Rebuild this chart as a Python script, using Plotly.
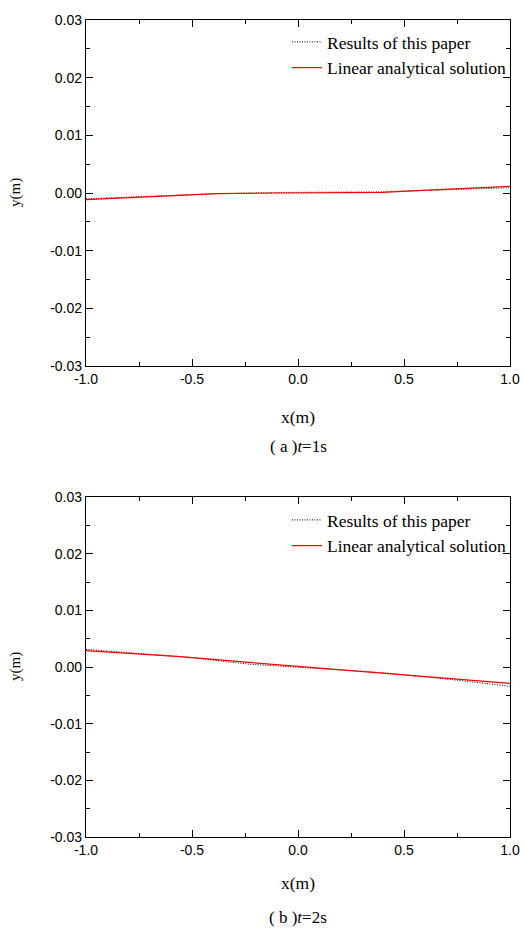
import plotly.graph_objects as go

# panel (a) t=1s
x_a = [-1.0, -0.54, -0.38, -0.07, 0.40, 0.56, 1.0]
paper_a = [-0.0010, -0.0004, -0.0001, 0.0001, 0.0002, 0.0004, 0.0009]
linear_a = [-0.00116, -0.0003, -0.0001, 0.0, 0.0001, 0.0004, 0.00116]

# panel (b) t=2s
x_b = [-1.0, -0.54, -0.23, 0.04, 0.40, 0.72, 1.0]
paper_b = [0.0031, 0.0018, 0.0005, -0.0001, -0.0010, -0.0022, -0.0034]
linear_b = [0.0029, 0.0018, 0.0008, 0.0, -0.0011, -0.0021, -0.0029]

x_ticks = [-1.0, -0.5, 0.0, 0.5, 1.0]
x_ticktext = ['-1.0', '-0.5', '0.0', '0.5', '1.0']
y_ticks = [-0.03, -0.02, -0.01, 0.0, 0.01, 0.02, 0.03]
y_ticktext = ['-0.03', '-0.02', '-0.01', '0.00', '0.01', '0.02', '0.03']

W, H = 525, 929
SERIF = 'Liberation Serif, Times New Roman, serif'
SANS = 'Liberation Sans, Arial, sans-serif'
DOT = '1px,1.5px'

fig = go.Figure()

# (a)
fig.add_trace(go.Scatter(x=x_a, y=paper_a, mode='lines', name='Results of this paper',
                         line=dict(color='black', width=1, dash=DOT), xaxis='x', yaxis='y', legend='legend'))
fig.add_trace(go.Scatter(x=x_a, y=linear_a, mode='lines', name='Linear analytical solution',
                         line=dict(color='#ff0000', width=1.2), xaxis='x', yaxis='y', legend='legend'))
# (b)
fig.add_trace(go.Scatter(x=x_b, y=paper_b, mode='lines', name='Results of this paper',
                         line=dict(color='black', width=1, dash=DOT), xaxis='x2', yaxis='y2', legend='legend2'))
fig.add_trace(go.Scatter(x=x_b, y=linear_b, mode='lines', name='Linear analytical solution',
                         line=dict(color='#ff0000', width=1.2), xaxis='x2', yaxis='y2', legend='legend2'))

x_dom = [86 / W, 510 / W]
dom_a = [1 - 366 / H, 1 - 20 / H]
dom_b = [1 - 837 / H, 1 - 497 / H]

def xax(anchor, dom):
    return dict(domain=dom, anchor=anchor, range=[-1, 1], tickvals=x_ticks, ticktext=x_ticktext,
                ticks='inside', ticklen=7, tickwidth=1.2, tickcolor='black',
                minor=dict(dtick=0.25, ticks='inside', ticklen=4, tickwidth=1.2, tickcolor='black'),
                showline=True, linecolor='black', linewidth=1.3, mirror='ticks', automargin=False,
                showgrid=False, zeroline=False, tickfont=dict(family=SANS, size=14, color='black'))

def yax(anchor, dom):
    return dict(domain=dom, anchor=anchor, range=[-0.03, 0.03], tickvals=y_ticks, ticktext=y_ticktext,
                ticks='inside', ticklen=7, tickwidth=1.2, tickcolor='black',
                minor=dict(dtick=0.005, ticks='inside', ticklen=4, tickwidth=1.2, tickcolor='black'),
                showline=True, linecolor='black', linewidth=1.3, mirror='ticks', automargin=False,
                showgrid=False, zeroline=False, tickfont=dict(family=SANS, size=14, color='black'))

leg = dict(xanchor='left', yanchor='top', bgcolor='rgba(0,0,0,0)', borderwidth=0,
           font=dict(family=SERIF, size=17.5, color='black'), tracegroupgap=0, itemwidth=30)

fig.update_layout(
    width=W, height=H,
    margin=dict(l=0, r=0, t=0, b=0, autoexpand=False),
    paper_bgcolor='white', plot_bgcolor='white',
    showlegend=True,
    xaxis=xax('y', x_dom), yaxis=yax('x', dom_a),
    xaxis2=xax('y2', x_dom), yaxis2=yax('x2', dom_b),
    legend=dict(leg, x=287 / W, y=1 - 24 / H),
    legend2=dict(leg, x=287 / W, y=1 - 502 / H),
)

cx = 298 / W
ann = [
    dict(text='x(m)', y=1 - 417 / H, size=17.5, anchor='middle'),
    dict(text='( a )<i>t</i>=1s', y=1 - 446 / H, size=17, anchor='middle'),
    dict(text='x(m)', y=1 - 883 / H, size=17.5, anchor='middle'),
    dict(text='( b )<i>t</i>=2s', y=0.5 / H, size=17, anchor='bottom'),
]
for a in ann:
    fig.add_annotation(text=a['text'], x=cx, y=a['y'], xref='paper', yref='paper',
                       xanchor='center', yanchor=a['anchor'], showarrow=False,
                       font=dict(family=SERIF, size=a['size'], color='black'))

for yc in [193, 667]:
    fig.add_annotation(text='y(m)', x=15 / W, y=1 - yc / H, xref='paper', yref='paper',
                       xanchor='center', yanchor='middle', showarrow=False, textangle=-90,
                       font=dict(family=SERIF, size=15, color='black'))

# page body has a default 8px margin; drop it so the figure fills the window
fig.write_html("out.html", config={'displayModeBar': False},
               post_script="document.body.style.margin='0';")
